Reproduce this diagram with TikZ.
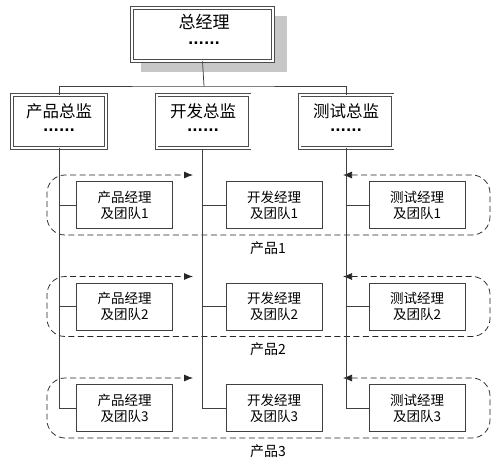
\documentclass[tikz,border=0pt]{standalone}
\usepackage{fontspec}
\setmainfont{Noto Sans CJK SC}
\newfontfamily\dotfont{DejaVu Sans}
\usetikzlibrary{arrows.meta}
\begin{document}
\begin{tikzpicture}[x=1pt,y=-1pt,
  line/.style={draw=black!75, line width=0.75pt},
  dbox/.style={draw=black!70, double=white, double distance=2pt, line width=0.75pt, fill=white, inner sep=0pt},
  mbox/.style={draw=black!75, line width=0.75pt, fill=white, minimum width=96pt, minimum height=47pt, align=center, inner sep=0pt, font=\fontsize{13.5}{16}\selectfont},
  grp/.style={draw=black!85, line width=0.75pt, dash pattern=on 6pt off 3.5pt, rounded corners=18pt},
  big/.style={font=\fontsize{17}{20}\selectfont, inner sep=0pt},
  mid/.style={font=\fontsize{16.5}{20}\selectfont, inner sep=0pt},
  dots/.style={font=\dotfont\bfseries\fontsize{14}{16}\selectfont, inner sep=0pt},
  lbl/.style={font=\fontsize{14}{16}\selectfont, inner sep=0pt}
]
\useasboundingbox (0,0) rectangle (500,473);
% shadow + top box
\fill[black!22] (141,16) rectangle (287,72);
\node[dbox, minimum width=141pt, minimum height=53pt] (ceo) at (202.5,34.5) {};
\node[big] (ceot) at (204,22) {总经理};
\node[dots] (ceod) at (204,43) {......};
% directors
\node[dbox, minimum width=94pt, minimum height=53pt] (pd) at (59,121.5) {};
\node[dbox, minimum width=93pt, minimum height=53pt] (dd) at (203,121.5) {};
\node[dbox, minimum width=93pt, minimum height=53pt] (td) at (346,121.5) {};
\node[mid] (pdt) at (59,111) {产品总监};
\node[mid] (ddt) at (203,111) {开发总监};
\node[mid] (tdt) at (346,111) {测试总监};
\node[dots] (pdd) at (59,130) {......};
\node[dots] (ddd) at (203,130) {......};
\node[dots] (tdd) at (346,130) {......};
% tree lines
\coordinate (jc) at (204,86);
\draw[line] (ceo.south) -- (jc);
\draw[line] (pd.north) |- (jc) -| (td.north);
% groups
\foreach \i/\y in {1/205,2/306.5,3/408}{
  \coordinate (ra\i) at (343,\y-30);
  \coordinate (la\i) at (193,\y-30);
  \draw[grp, {Latex[length=9pt,width=7pt]}-{Latex[length=9pt,width=7pt]}] (ra\i) -- (490,\y-30) -- (490,\y+30) -- (47,\y+30) -- (47,\y-30) -- (la\i);
  \node[lbl] (g\i) at (268,\y+43) {产品\i};
}
% vertical lines
\coordinate (pe) at (59,408);
\coordinate (de) at (202,408);
\coordinate (te) at (346,408);
\draw[line] (pd.south) -- (pe);
\draw[line] (202,150) -- (de);
\draw[line] (td.south) -- (te);
% managers
\foreach \i/\y in {1/205,2/306.5,3/408}{
  \node[mbox] (pm\i) at (124.5,\y) {产品经理\\及团队\i};
  \node[mbox] (dm\i) at (274,\y) {开发经理\\及团队\i};
  \node[mbox] (tm\i) at (417,\y) {测试经理\\及团队\i};
  \draw[line] (59,\y) -- (pm\i.west);
  \draw[line] (202,\y) -- (dm\i.west);
  \draw[line] (346,\y) -- (tm\i.west);
}
\end{tikzpicture}
\end{document}
